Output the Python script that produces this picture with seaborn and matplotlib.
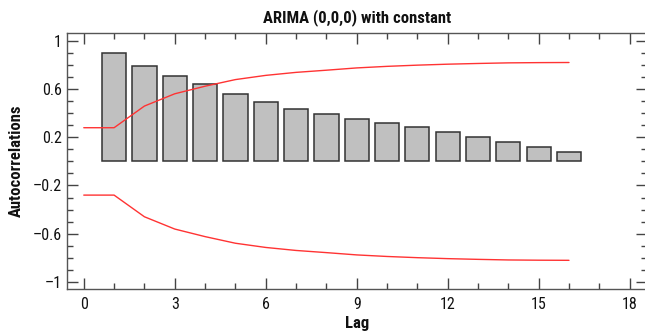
import matplotlib
matplotlib.use("Agg")
import matplotlib.pyplot as plt
from matplotlib import font_manager
from matplotlib.ticker import MultipleLocator
import numpy as np
import pandas as pd
import seaborn as sns

# Sample autocorrelations by lag and the 95% probability limits
lags = list(range(1, 17))
acf = [0.898, 0.790, 0.712, 0.645, 0.562, 0.493, 0.432, 0.390,
       0.354, 0.321, 0.288, 0.246, 0.202, 0.160, 0.116, 0.077]
limit_lags = list(range(0, 17))
upper_limit = [0.28, 0.28, 0.46, 0.562, 0.625, 0.68, 0.715, 0.74, 0.758,
               0.777, 0.79, 0.80, 0.808, 0.814, 0.819, 0.821, 0.822]
lower_limit = [-0.28, -0.28, -0.46, -0.562, -0.625, -0.68, -0.715, -0.74, -0.758,
               -0.777, -0.79, -0.80, -0.808, -0.814, -0.819, -0.821, -0.822]

title = "ARIMA (0,0,0) with constant"
xlabel = "Lag"
ylabel = "Autocorrelations"
xticks = [0, 3, 6, 9, 12, 15, 18]
yticks = [-1, -0.6, -0.2, 0.2, 0.6, 1]

sns.set_theme(style="white")
available = {f.name for f in font_manager.fontManager.ttflist}
family = next((f for f in ["Liberation Sans Narrow", "Roboto Condensed",
                           "DejaVu Sans Condensed", "Liberation Sans"] if f in available),
              "DejaVu Sans")
plt.rcParams["font.family"] = [family, "DejaVu Sans"]

bars = pd.DataFrame({"lag": lags, "acf": acf})
limits = pd.DataFrame({"lag": limit_lags, "upper": upper_limit, "lower": lower_limit})

fig = plt.figure(figsize=(6.45, 3.36), dpi=100)
ax = fig.add_axes([0.104, 0.140, 0.899, 0.761])

sns.barplot(data=bars, x="lag", y="acf", native_scale=True, width=0.8,
            color="#c0c0c0", edgecolor="#333333", linewidth=1.1,
            saturation=1, ax=ax, zorder=2)
sns.lineplot(data=limits, x="lag", y="upper", color="#ff3333", linewidth=1.0,
             ax=ax, zorder=3)
sns.lineplot(data=limits, x="lag", y="lower", color="#ff3333", linewidth=1.0,
             ax=ax, zorder=3)

ax.set_xlim(-0.55, 18.57)
ax.set_ylim(-1.06, 1.065)
ax.set_xticks(xticks)
ax.set_xticklabels([str(t) for t in xticks])
ax.set_yticks(yticks)
ax.set_yticklabels([f"{t:g}".replace("-", "\u2013") for t in yticks])
ax.xaxis.set_minor_locator(MultipleLocator(1))
ax.yaxis.set_minor_locator(MultipleLocator(0.1))

ax.tick_params(which="both", direction="in", top=True, right=True,
               bottom=True, left=True, color="#444444", width=1.0,
               labelsize=11.5, labelcolor="#111111")
ax.tick_params(which="major", length=8)
ax.tick_params(axis="x", which="major", pad=6)
ax.tick_params(axis="y", which="major", pad=4)
ax.tick_params(which="minor", length=4)

for side in ["left", "bottom", "top", "right"]:
    ax.spines[side].set_color("#555555")
    ax.spines[side].set_linewidth(1.0)

ax.set_title(title, fontsize=12, fontweight="bold", color="#111111", pad=8)
ax.set_xlabel(xlabel, fontsize=12, fontweight="bold", color="#111111", labelpad=3)
ax.set_ylabel(ylabel, fontsize=12, fontweight="bold", color="#111111", labelpad=6)

fig.savefig("out.png", dpi=100)
